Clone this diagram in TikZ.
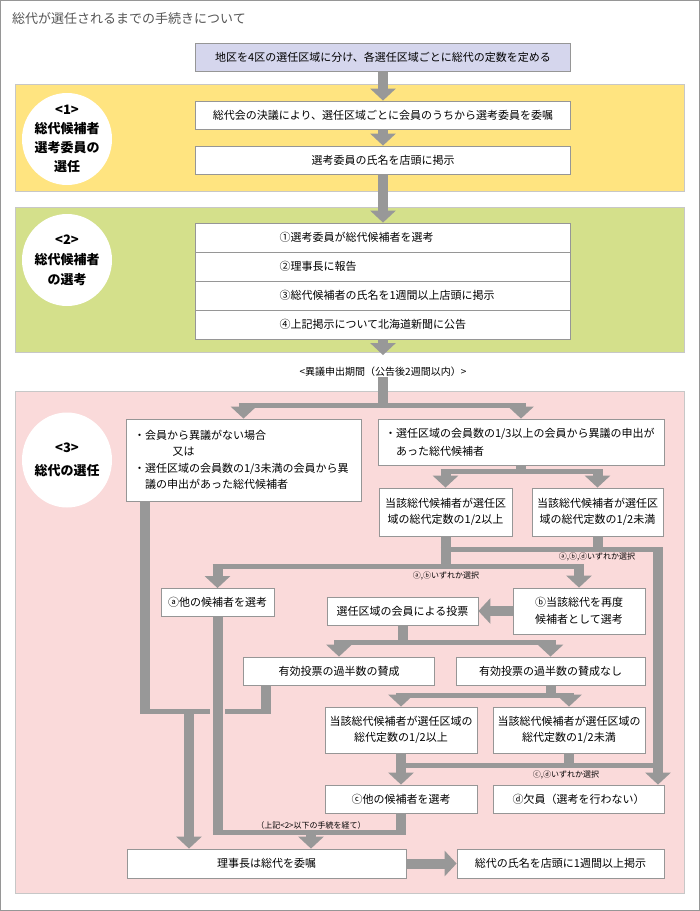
\documentclass[tikz,border=0pt]{standalone}
\usepackage{fontspec}
\setmainfont{Noto Sans CJK JP}
\usetikzlibrary{positioning, shapes, arrows.meta}
\definecolor{barc}{RGB}{152,152,152}
\definecolor{boxc}{RGB}{150,150,150}
\definecolor{framec}{RGB}{150,150,150}
\definecolor{titlec}{RGB}{85,85,85}
\definecolor{lavc}{RGB}{213,214,237}
\definecolor{yelc}{RGB}{255,228,128}
\definecolor{grnc}{RGB}{212,224,139}
\definecolor{pnkc}{RGB}{250,218,218}

\begin{document}
\begin{tikzpicture}[x=1pt ,y=-1pt ,>={Triangle[width=25pt,length=12pt]} ,
      inner sep=0pt, font=\fontsize{11}{16.5}\selectfont,
      box/.style={draw=boxc, fill=white, line width=0.8pt, minimum height=28pt, align=center},
      list/.style={box, minimum width=375pt, minimum height=29pt, text width=367pt, align=left, execute at begin node=\hspace*{80pt}},
      badge/.style={ellipse, fill=white, inner sep=-6pt, minimum width=90pt, minimum height=92pt, align=center, font=\bfseries\fontsize{13}{19}\selectfont},
      panel/.style={draw=black!22, line width=0.8pt},
      flow/.style={->, draw=barc, line width=10pt},
      bar/.style={draw=barc, line width=10pt},
      rail/.style={draw=barc, line width=5pt, shorten <=-5pt, shorten >=-5pt},
      note/.style={font=\fontsize{8}{9}\selectfont}]
      % frame, title;
      \useasboundingbox (0,0) rectangle (700,911);
      \draw[framec, line width=1pt] (0.5,0.5) rectangle (699.5,910.5);
      \node[anchor=west, text=titlec, font=\fontsize{13}{15}\selectfont](tt) at (12,19) {総代が選任されるまでの手続きについて};
      % panels;
      \draw[panel, fill=yelc] (15,84) rectangle (684,191);
      \draw[panel, fill=grnc] (15,207) rectangle (684,352);
      \draw[panel, fill=pnkc] (15,391) rectangle (684,893);
      \node[badge](e_1) at (67,139) {<1>\\総代候補者\\選考委員の\\選任};
      \node[badge, font=\bfseries\fontsize{13}{20}\selectfont](e_2) at (67,260) {<2>\\総代候補者\\の選考};
      \node[badge, minimum height=95pt, font=\bfseries\fontsize{13}{23}\selectfont](e_3) at (67,460) {<3>\\総代の選任};
      % top, b_1, b_2;
      \node[box, fill=lavc, minimum width=375pt](top) at (383,57) {地区を4区の選任区域に分け、各選任区域ごとに総代の定数を定める};
      \node[box, minimum width=375pt](b_1) at (383,115) {総代会の決議により、選任区域ごとに会員のうちから選考委員を委嘱};
      \node[box, minimum width=375pt](b_2) at (383,160) {選考委員の氏名を店頭に掲示};
      % c_1 .. c_4;
      \node[list](c_1) at (383,237.5) {①選考委員が総代候補者を選考};
      \node[list](c_2) at (383,266.5) {②理事長に報告};
      \node[list](c_3) at (383,295.5) {③総代候補者の氏名を1週間以上店頭に掲示};
      \node[list](c_4) at (383,324.5) {④上記掲示について北海道新聞に公告};
      \node[font=\fontsize{10}{12}\selectfont](lbl_p) at (383,372) {<異議申出期間（公告後2週間以内）>};
      % lf, rt, a_1, a_2;
      \node[box, minimum width=235pt, minimum height=82pt, text width=219pt, align=left](lf) at (243.5,460)
        {・会員から異議がない場合\\\hspace*{3.5em}又は\\・選任区域の会員数の1/3未満の会員から異\\\hspace*{1em}議の申出があった総代候補者};
      \node[box, minimum width=286pt, minimum height=46pt, text width=272pt, align=left, font=\fontsize{11}{18}\selectfont](rt) at (521,442)
        {・選任区域の会員数の1/3以上の会員から異議の申出が\\\hspace*{1em}あった総代候補者};
      \node[box, minimum width=133pt, minimum height=48pt](a_1) at (445.5,512) {当該総代候補者が選任区\\域の総代定数の1/2以上};
      \node[box, minimum width=131pt, minimum height=48pt](a_2) at (597.5,512) {当該総代候補者が選任区\\域の総代定数の1/2未満};
      % sel_a, sel_b, vote;
      \node[box, minimum width=113pt](sel_a) at (217.5,602.5) {ⓐ他の候補者を選考};
      \node[box, minimum width=132pt, minimum height=46pt](sel_b) at (579,611) {ⓑ当該総代を再度\\候補者として選考};
      \node[box, minimum width=151pt](vote) at (402.5,611) {選任区域の会員による投票};
      \node[box, minimum width=191pt](maj_y) at (339,671) {有効投票の過半数の賛成};
      \node[box, minimum width=189pt](maj_n) at (550.5,671) {有効投票の過半数の賛成なし};
      \node[box, minimum width=152pt, minimum height=46pt](hf_1) at (401,730) {当該総代候補者が選任区域の\\総代定数の1/2以上};
      \node[box, minimum width=152pt, minimum height=46pt](hf_2) at (569,730) {当該総代候補者が選任区域の\\総代定数の1/2未満};
      \node[box, minimum width=152pt](sel_c) at (401,799) {ⓒ他の候補者を選考};
      \node[box, minimum width=171pt](sel_d) at (578.5,799) {ⓓ欠員（選考を行わない）};
      \node[box, minimum width=279pt, minimum height=29pt](apt) at (266.5,863.5) {理事長は総代を委嘱};
      \node[box, minimum width=207pt, minimum height=29pt](pub) at (560.5,863.5) {総代の氏名を店頭に1週間以上掲示};
      % junctions;
      \coordinate (s_0) at (383,405);
      \coordinate (s_1) at (521,471);
      \coordinate (s_2) at (445.5,549);
      \coordinate (s_3) at (445.5,566);
      \coordinate (r_1) at (658,549);
      \coordinate (s_4) at (402.5,642);
      \coordinate (s_5) at (550.5,695);
      \coordinate (s_6) at (401,765);
      \coordinate (j_1) at (266,711);
      \coordinate (j_2) at (145,711);
      \coordinate (j_3) at (189,711);
      \coordinate (j_4) at (217.5,832);
      \coordinate (j_5) at (311,832);
      \coordinate (x_1) at (217.5,711);
      % top arrows;
      \path (top) edge[flow] (b_1);
      \path (b_1) edge[flow] (b_2);
      \path (b_2) edge[flow] (c_1);
      \path (c_4) edge[flow, shorten >=12pt] (lbl_p);
      % split after objection period;
      \draw[bar] (lbl_p) -- (s_0);
      \draw[rail] (lf |- s_0) -- (rt |- s_0);
      \draw[flow] (lf |- s_0) -- (lf);
      \draw[flow] (rt |- s_0) -- (rt);
      \draw[bar] (rt) -- (s_1);
      \draw[rail] (a_1 |- s_1) -- (a_2 |- s_1);
      \draw[flow] (a_1 |- s_1) -- (a_1);
      \draw[flow] (a_2 |- s_1) -- (a_2);
      % a, b, d choice;
      \draw[bar] (a_1) -- (s_3);
      \draw[bar] (a_2) -- (a_2 |- s_2);
      \draw[rail] (s_2) -- (r_1);
      \draw[flow] (r_1) -- (r_1 |- sel_d.north);
      \draw[rail] (sel_a |- s_3) -- (sel_b |- s_3);
      \draw[flow] (sel_a |- s_3) -- (sel_a);
      \draw[flow] (sel_b |- s_3) -- (sel_b);
      \node[note](n_1) at (597,557) {ⓐ,ⓑ,ⓓいずれか選択};
      \node[note](n_2) at (446,576) {ⓐ,ⓑいずれか選択};
      % vote;
      \path (sel_b) edge[flow] (vote);
      \draw[bar] (vote) -- (s_4);
      \draw[rail] (maj_y |- s_4) -- (maj_n |- s_4);
      \draw[flow] (maj_y |- s_4) -- (maj_y);
      \draw[flow] (maj_n |- s_4) -- (maj_n);
      \draw[bar] (maj_n) -- (s_5);
      \draw[rail] (hf_1 |- s_5) -- (hf_2 |- s_5);
      \draw[flow] (hf_1 |- s_5) -- (hf_1);
      \draw[flow] (hf_2 |- s_5) -- (hf_2);
      % c, d choice;
      \path (hf_1) edge[flow] (sel_c);
      \draw[bar] (hf_2) -- (hf_2 |- s_6);
      \draw[rail] (s_6) -- (r_1 |- s_6);
      \node[note](n_3) at (566,775) {ⓒ,ⓓいずれか選択};
      % routes to apt;
      \draw[bar] (maj_y.south -| j_1) -- (j_1);
      \draw[bar] (lf.south -| j_2) -- (j_2);
      \draw[rail] (j_2) -- (j_1);
      \draw[flow] (j_3) -- (j_3 |- apt.north);
      \draw[pnkc, line width=15pt] ([yshift=6pt]x_1) -- ([yshift=-6pt]x_1);
      \draw[bar] (sel_a) -- (j_4);
      \draw[bar] (sel_c) -- (sel_c |- j_4);
      \draw[rail] (j_4) -- (sel_c |- j_4);
      \draw[flow] (j_5) -- (j_5 |- apt.north);
      \node[note](n_4) at (311,825) {（上記<2>以下の手続を経て）};
      \path (apt) edge[flow] (pub);
  \end{tikzpicture}
\end{document}
